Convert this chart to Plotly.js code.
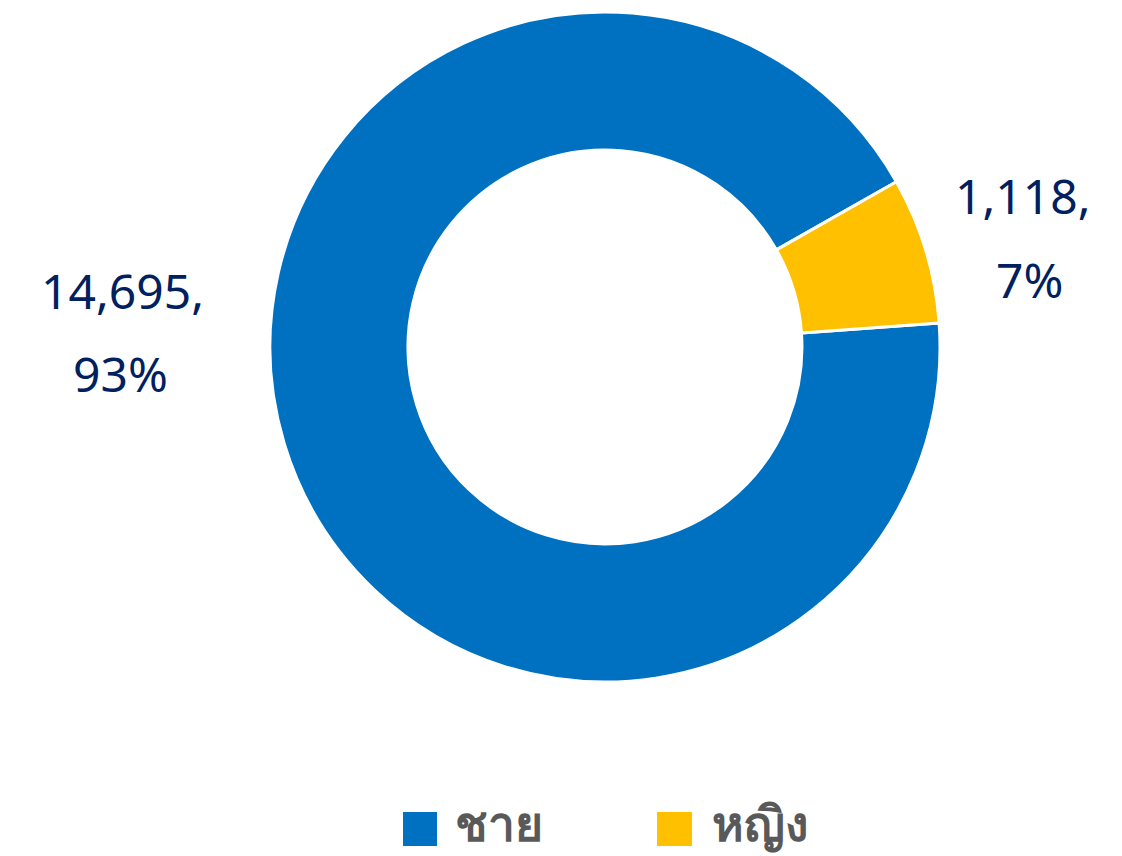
<!DOCTYPE html>
<html>
<head>
<meta charset="utf-8">
<script src="https://cdn.plot.ly/plotly-3.0.1.min.js"></script>
<style>html,body{margin:0;padding:0;background:#fff;}#chart{width:1122px;height:856px;}</style>
</head>
<body>
<div id="chart"></div>
<script>
const categories = ['ชาย', 'หญิง'];
const values = [14695, 1118];
const sliceColors = ['#0070C0', '#FFC000'];

const total = values.reduce((a, b) => a + b, 0);
const fmt = v => v.toLocaleString('en-US');
const pct = v => Math.round(v / total * 100) + '%';

const labelFont = {family: 'Noto Sans, sans-serif', size: 48, color: '#002060'};
const legendFont = {family: 'Noto Sans, sans-serif', size: 48, color: '#595959', weight: 'bold'};

// label placement (paper coords) per category
const labelPos = [
  {x1: 0.1096, y1: 0.661, x2: 0.107, y2: 0.564},
  {x1: 0.912, y1: 0.772, x2: 0.918, y2: 0.673}
];
const legendPos = [
  {sx0: 0.3592, sx1: 0.3895, tx: 0.405},
  {sx0: 0.5856, sx1: 0.6168, tx: 0.634}
];

const annotations = [];
const shapes = [];
categories.forEach((c, i) => {
  const p = labelPos[i];
  annotations.push({xref: 'paper', yref: 'paper', x: p.x1, y: p.y1, xanchor: 'center', yanchor: 'middle',
    text: fmt(values[i]) + ',', showarrow: false, font: labelFont});
  annotations.push({xref: 'paper', yref: 'paper', x: p.x2, y: p.y2, xanchor: 'center', yanchor: 'middle',
    text: pct(values[i]), showarrow: false, font: labelFont});
  const l = legendPos[i];
  shapes.push({type: 'rect', xref: 'paper', yref: 'paper', x0: l.sx0, x1: l.sx1, y0: 0.0117, y1: 0.0514,
    fillcolor: sliceColors[i], line: {width: 0}});
  annotations.push({xref: 'paper', yref: 'paper', x: l.tx, y: 0, xanchor: 'left', yanchor: 'bottom',
    text: '<b>' + c + '</b>', showarrow: false, font: legendFont, borderpad: 0});
});

const trace = {
  type: 'pie',
  labels: categories,
  values: values,
  hole: 0.588,
  sort: false,
  direction: 'counterclockwise',
  rotation: 85.9,
  marker: {colors: sliceColors, line: {color: '#ffffff', width: 3}},
  textinfo: 'none',
  hoverinfo: 'label+value+percent',
  domain: {x: [0.2406, 0.8378], y: [0.2033, 0.986]},
  showlegend: false
};

const layout = {
  width: 1122, height: 856,
  margin: {l: 0, r: 0, t: 0, b: 0},
  paper_bgcolor: '#ffffff',
  showlegend: false,
  annotations: annotations,
  shapes: shapes
};

Plotly.newPlot('chart', [trace], layout, {displayModeBar: false, staticPlot: true});
</script>
</body>
</html>
